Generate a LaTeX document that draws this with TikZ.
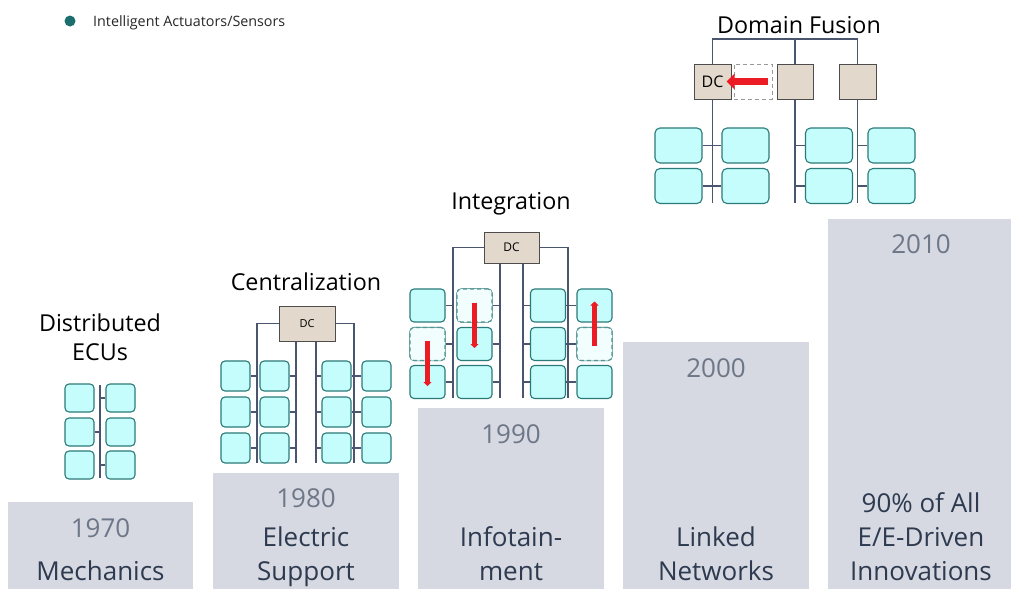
\documentclass[tikz,border=0pt]{standalone}
\usepackage{fontspec}
\setmainfont{Open Sans}
\usetikzlibrary{arrows.meta}
\definecolor{barfill}{HTML}{D6D9E1}
\definecolor{yearcol}{HTML}{6E7788}
\definecolor{labelcol}{HTML}{2D3A4F}
\definecolor{ecufill}{HTML}{C5FDFD}
\definecolor{ecufaint}{HTML}{F2FEFE}
\definecolor{eculine}{HTML}{2A7A78}
\definecolor{dcfill}{HTML}{E2D9CC}
\definecolor{dcline}{HTML}{4D4D4D}
\definecolor{buscol}{HTML}{4A5570}
\definecolor{arrowred}{HTML}{EC1C24}
\definecolor{dotcol}{HTML}{1A6E6E}
\begin{document}
\begin{tikzpicture}[x=1pt,y=-1pt,
  bar/.style={fill=barfill,draw=none},
  yeartext/.style={anchor=base,text=yearcol,font=\fontsize{26}{32}\selectfont,inner sep=0},
  eratext/.style={anchor=base,text=labelcol,font=\fontsize{26}{32}\selectfont,inner sep=0},
  titletext/.style={anchor=base,text=black,font=\fontsize{23.3}{28}\selectfont,inner sep=0},
  ecu/.style={draw=eculine,fill=ecufill,line width=1.1pt,rounded corners=4pt,inner sep=0},
  ecuold/.style={draw=eculine!80,fill=ecufaint,line width=1.1pt,rounded corners=4pt,inner sep=0,dash pattern=on 4pt off 3pt},
  dcbox/.style={draw=dcline,fill=dcfill,line width=1pt,inner sep=0},
  dcfree/.style={draw=gray!80,fill=white,line width=1pt,inner sep=0,dash pattern=on 4pt off 3pt},
  bus/.style={draw=buscol,line width=1.4pt},
  movesmall/.style={draw=arrowred,line width=4.5pt,-{Triangle[length=4pt,width=8pt]}},
  movebig/.style={draw=arrowred,line width=7.5pt,-{Triangle[length=8pt,width=15pt]}}
]
\useasboundingbox (0,0) rectangle (1011,589);

% ---- legend ----
\fill[dotcol] (70,21) circle (5.5);
\node[anchor=base west,inner sep=0,font=\fontsize{14.3}{17}\selectfont,text=black!85] (legend) at (93,26) {Intelligent Actuators/Sensors};

% ---- era bars ----
\fill[bar] (8,502) rectangle (193,589);
\fill[bar] (213,473) rectangle (399,589);
\fill[bar] (418,408) rectangle (604,589);
\fill[bar] (623,342) rectangle (809,589);
\fill[bar] (828,219) rectangle (1011,589);

\node[yeartext] (y1970) at (100.5,537) {1970};
\node[eratext] (e1970) at (100.5,580) {Mechanics};

\node[yeartext] (y1980) at (306,507) {1980};
\node[eratext] (e1980a) at (306,546) {Electric};
\node[eratext] (e1980b) at (306,580) {Support};

\node[yeartext] (y1990) at (511,443) {1990};
\node[eratext] (e1990a) at (511,546) {Infotain-};
\node[eratext] (e1990b) at (511,580) {ment};

\node[yeartext] (y2000) at (716,377) {2000};
\node[eratext] (e2000a) at (716,546) {Linked};
\node[eratext] (e2000b) at (716,580) {Networks};

\node[yeartext] (y2010) at (921,253) {2010};
\node[eratext] (e2010a) at (921,512) {90\% of All};
\node[eratext] (e2010b) at (921,546) {E/E-Driven};
\node[eratext] (e2010c) at (921,580) {Innovations};

% ---- stage 1: distributed ECUs ----
\node[titletext] (t1a) at (100,331) {Distributed};
\node[titletext] (t1b) at (100,360) {ECUs};
\coordinate (dT) at (100,385);
\coordinate (dB) at (100,478);
\draw[bus] (dT) -- (dB);
\foreach \r/\y in {1/398,2/432,3/465}{
  \node[ecu,minimum width=29pt,minimum height=28pt] (d-\r-1) at (79.5,\y) {};
  \node[ecu,minimum width=29pt,minimum height=28pt] (d-\r-2) at (120.5,\y) {};
}
\draw[bus] (dT |- d-1-2.west) -- (d-1-2.west);
\draw[bus] (d-2-1.east) -- (dT |- d-2-1.east);
\draw[bus] (dT |- d-3-2.west) -- (d-3-2.west);

% ---- stage 2: centralization ----
\node[titletext] (t2) at (306,290) {Centralization};
\node[dcbox,minimum width=56pt,minimum height=35pt,font=\fontsize{11}{13}\selectfont] (cdc) at (307,323.5) {DC};
\coordinate (cb1) at (257,463);
\coordinate (cb2) at (296,463);
\coordinate (cb3) at (316,463);
\coordinate (cb4) at (354,463);
\draw[bus] (cdc.west) -| (cb1);
\draw[bus] (cdc.east) -| (cb4);
\draw[bus] (cdc.south -| cb2) -- (cb2);
\draw[bus] (cdc.south -| cb3) -- (cb3);
\foreach \r/\y in {1/376,2/412,3/448}{
  \foreach \c/\x in {1/235.5,2/274.5,3/336.5,4/376.5}{
    \node[ecu,minimum width=29pt,minimum height=30pt] (c-\r-\c) at (\x,\y) {};
  }
  \draw[bus] (c-\r-1.east) -- (cb1 |- c-\r-1.east);
  \draw[bus] (c-\r-2.east) -- (cb2 |- c-\r-2.east);
  \draw[bus] (cb3 |- c-\r-3.west) -- (c-\r-3.west);
  \draw[bus] (c-\r-3.east) -- (c-\r-4.west);
}

% ---- stage 3: integration ----
\node[titletext] (t3) at (511,209) {Integration};
\node[dcbox,minimum width=55pt,minimum height=31pt,font=\fontsize{12}{14}\selectfont] (idc) at (511.5,247.5) {DC};
\coordinate (ib1) at (453,398);
\coordinate (ib2) at (500,398);
\coordinate (ib3) at (523,398);
\coordinate (ib4) at (568,398);
\draw[bus] (idc.west) -| (ib1);
\draw[bus] (idc.east) -| (ib4);
\draw[bus] (idc.south -| ib2) -- (ib2);
\draw[bus] (idc.south -| ib3) -- (ib3);
\foreach \r/\y in {1/305.5,2/344,3/382}{
  \foreach \c/\x in {1/427.5,2/474.5,3/548,4/594.5}{
    \node[ecu,minimum width=35pt,minimum height=33pt] (i-\r-\c) at (\x,\y) {};
  }
}
% components that have moved away: faint dashed outlines
\node[ecuold,minimum width=35pt,minimum height=33pt] (i-2-1) at (427.5,344) {};
\node[ecuold,minimum width=35pt,minimum height=33pt] (i-1-2) at (474.5,305.5) {};
\node[ecuold,minimum width=35pt,minimum height=33pt] (i-2-4) at (594.5,344) {};
\foreach \r in {1,2,3}{
  \draw[bus] (i-\r-1.east) -- (ib1 |- i-\r-1.east);
  \draw[bus] (i-\r-2.east) -- (ib2 |- i-\r-2.east);
  \draw[bus] (ib3 |- i-\r-3.west) -- (i-\r-3.west);
  \draw[bus] (i-\r-3.east) -- (i-\r-4.west);
}
\draw[movesmall] ([yshift=3pt]i-2-1.center) -- ([yshift=-4pt]i-3-1.center);
\draw[movesmall] ([yshift=3pt]i-1-2.center) -- ([yshift=-4pt]i-2-2.center);
\draw[movesmall] ([yshift=-2pt]i-2-4.center) -- ([yshift=4pt]i-1-4.center);

% ---- stage 4: domain fusion ----
\node[titletext] (t4) at (799,33) {Domain Fusion};
\node[dcbox,minimum width=37pt,minimum height=35pt,font=\fontsize{16}{18}\selectfont] (fdc) at (712.5,81.5) {DC};
\node[dcfree,minimum width=38pt,minimum height=35pt] (fold) at (753,81.5) {};
\node[dcbox,minimum width=36pt,minimum height=35pt] (fd2) at (795,81.5) {};
\node[dcbox,minimum width=37pt,minimum height=35pt] (fd3) at (857.5,81.5) {};
\coordinate (fb1) at (712,203);
\coordinate (fb2) at (795,203);
\coordinate (fb3) at (858,203);
\coordinate (ftop) at (712,39);
\draw[bus] (fdc.north) -- (fdc.north |- ftop) -- (fd3.north |- ftop) -- (fd3.north);
\draw[bus] (fd2.north |- ftop) -- (fd2.north);
\draw[bus] (fdc.south) -- (fdc.south |- fb1);
\draw[bus] (fd2.south) -- (fb2);
\draw[bus] (fd3.south) -- (fd3.south |- fb3);
\foreach \r/\y in {1/145.5,2/186}{
  \foreach \c/\x in {1/678.5,2/745.5,3/829,4/891.5}{
    \node[ecu,minimum width=47pt,minimum height=35pt,rounded corners=5pt] (f-\r-\c) at (\x,\y) {};
  }
  \draw[bus] (f-\r-1.east) -- (f-\r-2.west);
  \draw[bus] (fb2 |- f-\r-3.west) -- (f-\r-3.west);
  \draw[bus] (fd3.south |- f-\r-4.west) -- (f-\r-4.west);
}
\draw[movebig] ([xshift=-5pt]fold.east) -- ([xshift=-5pt]fdc.east);
\end{tikzpicture}
\end{document}
